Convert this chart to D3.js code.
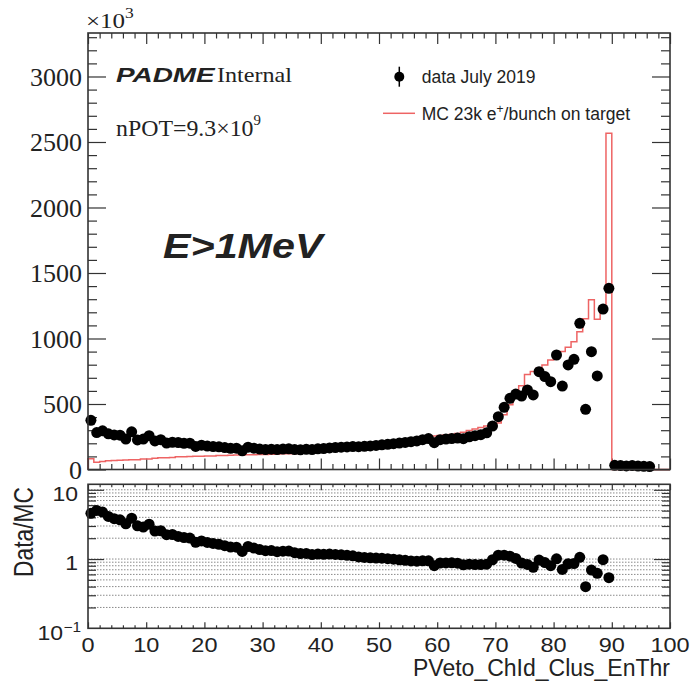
<!DOCTYPE html>
<html>
<head>
<meta charset="utf-8">
<script src="https://cdn.jsdelivr.net/npm/d3@7"></script>
<style>
  html, body { margin: 0; padding: 0; background: #fff; }
</style>
</head>
<body>
<svg id="chart" width="695" height="685"></svg>
<script>
// PVeto charged-cluster energy threshold: data vs MC (counts in units of 10^3 per bin, 1 unit wide bins)
const dataCounts = [
  375, 282, 295, 272, 264, 262, 232, 288, 226, 232,
  258, 218, 228, 202, 208, 206, 200, 201, 176, 186,
  179, 175, 173, 167, 162, 163, 143, 170, 163, 156,
  152, 155, 152, 156, 158, 152, 150, 154, 152, 158,
  160, 165, 168, 170, 172, 175, 174, 177, 180, 184,
  188, 192, 197, 202, 207, 212, 218, 228, 236, 205,
  228, 232, 236, 240, 235, 250, 258, 266, 280, 332,
  403, 475, 543, 576, 561, 607, 569, 747, 709, 670,
  874, 637, 798, 841, 1116, 459, 899, 714, 1225, 1383,
  32, 30, 27, 30, 26, 24, 22
];
const mcCounts = [
  82, 56, 62, 66, 69, 71, 72, 74, 75, 80,
  81, 86, 89, 90, 92, 97, 98, 100, 101, 102,
  103, 104, 106, 107, 109, 110, 111, 112, 113, 114,
  115, 117, 119, 120, 121, 123, 125, 128, 131, 134,
  137, 140, 144, 148, 152, 157, 162, 168, 173, 178,
  183, 190, 198, 207, 216, 226, 234, 242, 250, 256,
  260, 264, 268, 275, 285, 297, 310, 320, 332, 340,
  355, 418, 494, 565, 640, 725, 748, 772, 798, 835,
  866, 900, 933, 976, 1052, 1150, 1295, 1146, 1250, 2566,
  0, 0, 0, 0, 0, 0, 0, 0, 0, 0
];
const xTickLabels = [0, 10, 20, 30, 40, 50, 60, 70, 80, 90, 100];
const yTickLabels = [0, 500, 1000, 1500, 2000, 2500, 3000];
const ratioMajor = [1, 10];
const ratioGrid = [0.2, 0.3, 0.4, 0.5, 0.6, 0.7, 0.8, 0.9, 1, 2, 3, 4, 5, 6, 7, 8, 9, 10];

const svg = d3.select("#chart");
const SANS = "'Liberation Sans', Arial, Helvetica, sans-serif";
const SERIF = "'Liberation Serif', 'Times New Roman', serif";
const INK = "#222";
const FRAME = "#333";
const MC_RED = "#ee6464";

// panel geometry
const L = 88, R = 670;
const mainTop = 33, mainBot = 469.5;
const ratTop = 484.3, ratBot = 628.3;

const x = d3.scaleLinear().domain([0, 100]).range([L, R]);
const y = d3.scaleLinear().domain([0, 3332]).range([mainBot, mainTop]);
const yr = d3.scaleLog().domain([0.1, 12]).range([ratBot, ratTop]);

// text helper with optional horizontal stretch
function label(parent, px, py, s, o) {
  return parent.append("text")
    .attr("transform", `translate(${px},${py}) scale(${o.sx || 1},${o.sy || 1})`)
    .attr("font-family", o.font || SANS)
    .attr("font-size", o.size)
    .attr("font-weight", o.weight || "normal")
    .attr("font-style", o.style || "normal")
    .attr("text-anchor", o.anchor || "start")
    .attr("fill", o.fill || INK)
    .text(s);
}

function styleAxis(g) {
  g.select(".domain").remove();
  g.selectAll(".tick line").attr("stroke", FRAME).attr("stroke-width", 1.2);
  g.selectAll(".tick text").remove();
}

const majorX = xTickLabels;
const minorX = d3.range(0, 101, 2).filter(v => v % 10 !== 0);
const minorY = d3.range(0, 3301, 100).filter(v => v % 500 !== 0);

// ---------- main panel ----------
const main = svg.append("g");

// ticks
main.append("g").attr("transform", `translate(${L},0)`)
  .call(d3.axisLeft(y).tickValues(yTickLabels).tickSize(-18)).call(styleAxis);
main.append("g").attr("transform", `translate(${L},0)`)
  .call(d3.axisLeft(y).tickValues(minorY).tickSize(-9)).call(styleAxis);
main.append("g").attr("transform", `translate(${R},0)`)
  .call(d3.axisRight(y).tickValues(yTickLabels).tickSize(-18)).call(styleAxis);
main.append("g").attr("transform", `translate(${R},0)`)
  .call(d3.axisRight(y).tickValues(minorY).tickSize(-9)).call(styleAxis);
main.append("g").attr("transform", `translate(0,${mainBot})`)
  .call(d3.axisBottom(x).tickValues(majorX).tickSize(-11)).call(styleAxis);
main.append("g").attr("transform", `translate(0,${mainBot})`)
  .call(d3.axisBottom(x).tickValues(minorX).tickSize(-5.5)).call(styleAxis);
main.append("g").attr("transform", `translate(0,${mainTop})`)
  .call(d3.axisTop(x).tickValues(majorX).tickSize(-11)).call(styleAxis);
main.append("g").attr("transform", `translate(0,${mainTop})`)
  .call(d3.axisTop(x).tickValues(minorX).tickSize(-5.5)).call(styleAxis);

// MC histogram outline
const stepPts = [[0, 0]];
mcCounts.forEach((v, i) => stepPts.push([i, v]));
stepPts.push([100, mcCounts[mcCounts.length - 1]]);
stepPts.push([100, 0]);
const stepLine = d3.line().x(d => x(d[0])).y(d => y(d[1])).curve(d3.curveStepAfter);
main.append("path").attr("d", stepLine(stepPts))
  .attr("fill", "none").attr("stroke", MC_RED).attr("stroke-width", 1.5);

// data points
main.append("g").selectAll("circle").data(dataCounts).join("circle")
  .attr("cx", (d, i) => x(i + 0.5)).attr("cy", d => y(d))
  .attr("r", 5.5).attr("fill", "#000");

// frame
main.append("rect").attr("x", L).attr("y", mainTop)
  .attr("width", R - L).attr("height", mainBot - mainTop)
  .attr("fill", "none").attr("stroke", FRAME).attr("stroke-width", 1.6);

// y tick labels
yTickLabels.forEach(v => label(main, 82, y(v) + 9.5, String(v),
  { font: SERIF, size: 25, anchor: "end", sx: 1.04 }));

// x10^3 multiplier
const mult = label(main, 86, 28, "×10", { font: SERIF, size: 20, sx: 1.25 });
mult.append("tspan").attr("dy", -10).attr("font-size", 14).text("3");

// PADME Internal
label(main, 116, 81.7, "PADME", { size: 21, weight: "bold", style: "italic", sx: 1.33 });
label(main, 217, 81.7, "Internal", { font: SERIF, size: 21, sx: 1.15 });
const npot = label(main, 116, 136, "nPOT=9.3×10", { font: SERIF, size: 22.5, sx: 1.06 });
npot.append("tspan").attr("dy", -11).attr("font-size", 14).text("9");

// energy cut label
label(main, 163, 258.3, "E>1MeV", { size: 35, weight: "bold", style: "italic", sx: 1.18 });

// legend
main.append("line").attr("x1", 399.3).attr("x2", 399.3).attr("y1", 66.7).attr("y2", 86.7)
  .attr("stroke", "#000").attr("stroke-width", 1.5);
main.append("circle").attr("cx", 399.3).attr("cy", 76.7).attr("r", 5).attr("fill", "#000");
label(main, 421.7, 83, "data July 2019", { size: 17.5 });
main.append("line").attr("x1", 383).attr("x2", 415).attr("y1", 113.3).attr("y2", 113.3)
  .attr("stroke", MC_RED).attr("stroke-width", 1.5);
const mcLab = label(main, 421.7, 120, "MC 23k e", { size: 17.5 });
mcLab.append("tspan").attr("dy", -7).attr("font-size", 12).text("+");
mcLab.append("tspan").attr("dy", 7).text("/bunch on target");

// ---------- ratio panel ----------
const rat = svg.append("g");

// dotted grid
rat.append("g").selectAll("line").data(ratioGrid).join("line")
  .attr("x1", L).attr("x2", R).attr("y1", d => yr(d)).attr("y2", d => yr(d))
  .attr("stroke", "#8a8a8a").attr("stroke-width", 1).attr("stroke-dasharray", "1.5,1.5");

const ratioMinor = ratioGrid.filter(v => ratioMajor.indexOf(v) < 0);
rat.append("g").attr("transform", `translate(${L},0)`)
  .call(d3.axisLeft(yr).tickValues(ratioMajor).tickSize(-16)).call(styleAxis);
rat.append("g").attr("transform", `translate(${L},0)`)
  .call(d3.axisLeft(yr).tickValues(ratioMinor).tickSize(-8)).call(styleAxis);
rat.append("g").attr("transform", `translate(${R},0)`)
  .call(d3.axisRight(yr).tickValues(ratioMajor).tickSize(-16)).call(styleAxis);
rat.append("g").attr("transform", `translate(${R},0)`)
  .call(d3.axisRight(yr).tickValues(ratioMinor).tickSize(-8)).call(styleAxis);
rat.append("g").attr("transform", `translate(0,${ratBot})`)
  .call(d3.axisBottom(x).tickValues(majorX).tickSize(-6)).call(styleAxis);
rat.append("g").attr("transform", `translate(0,${ratBot})`)
  .call(d3.axisBottom(x).tickValues(minorX).tickSize(-3)).call(styleAxis);
rat.append("g").attr("transform", `translate(0,${ratTop})`)
  .call(d3.axisTop(x).tickValues(majorX).tickSize(-6)).call(styleAxis);
rat.append("g").attr("transform", `translate(0,${ratTop})`)
  .call(d3.axisTop(x).tickValues(minorX).tickSize(-3)).call(styleAxis);

// data / MC points
const ratios = dataCounts
  .map((d, i) => ({ i, r: mcCounts[i] > 0 ? d / mcCounts[i] : null }))
  .filter(p => p.r !== null);
rat.append("g").selectAll("circle").data(ratios).join("circle")
  .attr("cx", p => x(p.i + 0.5)).attr("cy", p => yr(p.r))
  .attr("r", 5.5).attr("fill", "#000");

rat.append("rect").attr("x", L).attr("y", ratTop)
  .attr("width", R - L).attr("height", ratBot - ratTop)
  .attr("fill", "none").attr("stroke", FRAME).attr("stroke-width", 1.6);

// ratio axis labels
label(rat, 78, yr(10) + 11, "10", { size: 20, anchor: "end", sx: 1.15 });
label(rat, 78, yr(1) + 11, "1", { size: 20, anchor: "end", sx: 1.15 });
const tenth = label(rat, 63, 640, "10", { size: 20, anchor: "end", sx: 1.15 });
const expo = label(rat, 63.5, 632, "−1", { size: 14, sx: 1.1 });

xTickLabels.forEach(v => label(rat, x(v), 651.5, String(v),
  { size: 21, anchor: "middle", sx: 1.12 }));

label(rat, 670, 676, "PVeto_ChId_Clus_EnThr", { size: 23, anchor: "end" });

svg.append("text")
  .attr("transform", "translate(33,532) rotate(-90) scale(1,1.2)")
  .attr("font-family", SANS).attr("font-size", 22.8)
  .attr("text-anchor", "middle").attr("fill", INK)
  .text("Data/MC");
</script>
</body>
</html>
